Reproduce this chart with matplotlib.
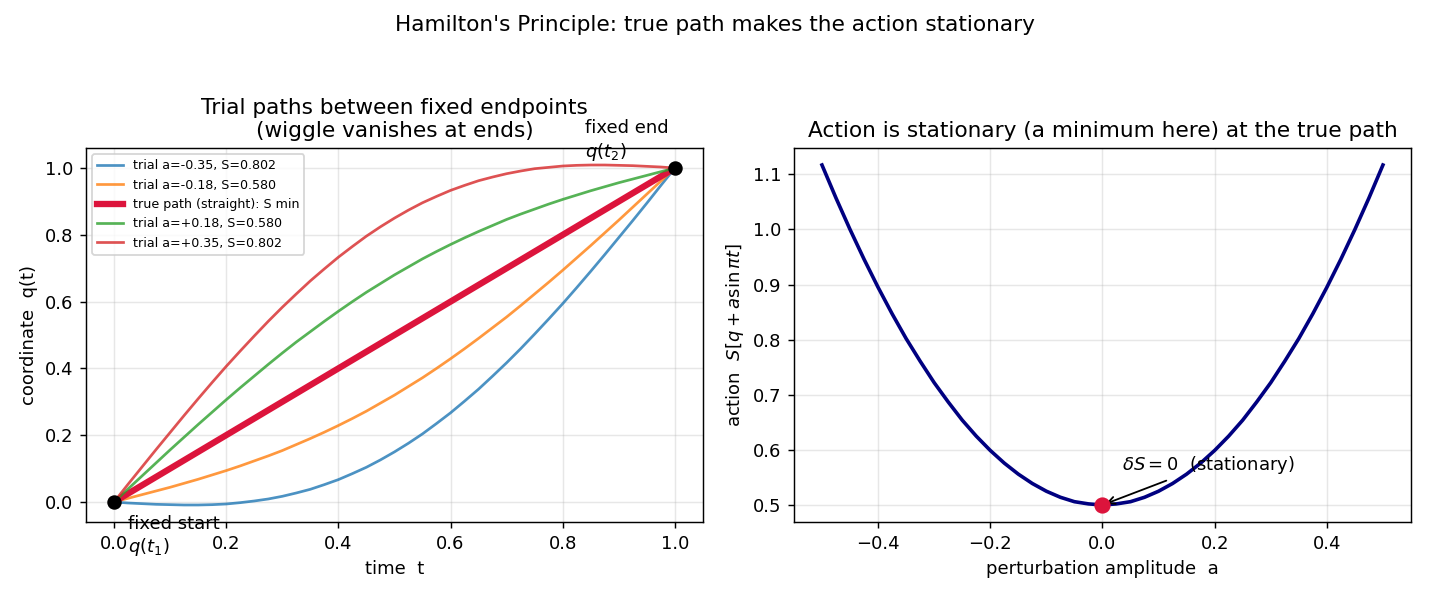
import numpy as np
import matplotlib
matplotlib.use("Agg")
import matplotlib.pyplot as plt

# trial paths q(t), read at t = 0, 0.025, ..., 1
t_pts = [0.000, 0.025, 0.050, 0.075, 0.100, 0.125, 0.150, 0.175, 0.200, 0.225,
         0.250, 0.275, 0.300, 0.325, 0.350, 0.375, 0.400, 0.425, 0.450, 0.475,
         0.500, 0.525, 0.550, 0.575, 0.600, 0.625, 0.650, 0.675, 0.700, 0.725,
         0.750, 0.775, 0.800, 0.825, 0.850, 0.875, 0.900, 0.925, 0.950, 0.975, 1.000]
q_m035 = [0.000, -0.003, -0.005, -0.007, -0.008, -0.009, -0.009, -0.008, -0.006, -0.002,
          0.003, 0.009, 0.017, 0.027, 0.038, 0.052, 0.067, 0.085, 0.104, 0.126,
          0.150, 0.176, 0.204, 0.235, 0.267, 0.302, 0.338, 0.377, 0.417, 0.459,
          0.503, 0.548, 0.594, 0.642, 0.691, 0.741, 0.792, 0.843, 0.895, 0.948, 1.000]
q_m018 = [0.000, 0.011, 0.022, 0.033, 0.044, 0.056, 0.068, 0.081, 0.094, 0.108,
          0.123, 0.138, 0.154, 0.172, 0.190, 0.209, 0.229, 0.250, 0.272, 0.296,
          0.320, 0.346, 0.372, 0.400, 0.429, 0.459, 0.490, 0.522, 0.554, 0.588,
          0.623, 0.658, 0.694, 0.731, 0.768, 0.806, 0.844, 0.883, 0.922, 0.961, 1.000]
q_p018 = [0.000, 0.039, 0.078, 0.117, 0.156, 0.194, 0.232, 0.269, 0.306, 0.342,
          0.377, 0.412, 0.446, 0.479, 0.510, 0.541, 0.571, 0.600, 0.628, 0.654,
          0.680, 0.704, 0.728, 0.750, 0.771, 0.791, 0.810, 0.828, 0.846, 0.862,
          0.877, 0.892, 0.906, 0.919, 0.932, 0.944, 0.956, 0.967, 0.978, 0.989, 1.000]
q_p035 = [0.000, 0.053, 0.105, 0.157, 0.208, 0.259, 0.309, 0.358, 0.406, 0.452,
          0.497, 0.541, 0.583, 0.623, 0.662, 0.698, 0.733, 0.765, 0.796, 0.824,
          0.850, 0.874, 0.896, 0.915, 0.933, 0.948, 0.962, 0.973, 0.983, 0.991,
          0.998, 1.002, 1.006, 1.008, 1.009, 1.009, 1.008, 1.007, 1.005, 1.003, 1.000]
true_t = [0.0, 1.0]
true_q = [0.0, 1.0]
trial_labels = ["trial a=-0.35, S=0.802", "trial a=-0.18, S=0.580",
                "trial a=+0.18, S=0.580", "trial a=+0.35, S=0.802"]

# action vs amplitude, read at a = -0.5 ... 0.5 in steps of 0.025
a_pts = [-0.500, -0.475, -0.450, -0.425, -0.400, -0.375, -0.350, -0.325, -0.300, -0.275,
         -0.250, -0.225, -0.200, -0.175, -0.150, -0.125, -0.100, -0.075, -0.050, -0.025,
         0.000, 0.025, 0.050, 0.075, 0.100, 0.125, 0.150, 0.175, 0.200, 0.225,
         0.250, 0.275, 0.300, 0.325, 0.350, 0.375, 0.400, 0.425, 0.450, 0.475, 0.500]
S_pts = [1.117, 1.057, 1.000, 0.946, 0.895, 0.847, 0.802, 0.761, 0.722, 0.687,
         0.654, 0.625, 0.599, 0.576, 0.556, 0.539, 0.525, 0.514, 0.506, 0.502,
         0.500, 0.502, 0.506, 0.514, 0.525, 0.539, 0.556, 0.576, 0.599, 0.625,
         0.654, 0.687, 0.722, 0.761, 0.802, 0.847, 0.895, 0.946, 1.000, 1.057, 1.117]

fig = plt.figure(figsize=(11, 4.6), dpi=130)
ax1 = fig.add_axes([0.0601, 0.1271, 0.4315, 0.6254])
ax2 = fig.add_axes([0.5552, 0.1271, 0.4315, 0.6254])

ax1.plot(t_pts, q_m035, color="C0", lw=1.5, alpha=0.8, label=trial_labels[0])
ax1.plot(t_pts, q_m018, color="C1", lw=1.5, alpha=0.8, label=trial_labels[1])
ax1.plot(true_t, true_q, color="crimson", lw=3.5, label="true path (straight): S min")
ax1.plot(t_pts, q_p018, color="C2", lw=1.5, alpha=0.8, label=trial_labels[2])
ax1.plot(t_pts, q_p035, color="C3", lw=1.5, alpha=0.8, label=trial_labels[3])
ax1.plot(true_t, true_q, "o", color="black", ms=7, zorder=5)
ax1.annotate("fixed start\n$q(t_1)$", (0, 0), xytext=(8, -7), textcoords="offset points",
             va="top", ha="left")
ax1.annotate("fixed end\n$q(t_2)$", (1, 1), xytext=(-50, 3), textcoords="offset points",
             va="bottom", ha="left")
ax1.set_title("Trial paths between fixed endpoints\n(wiggle vanishes at ends)")
ax1.set_xlabel("time  t")
ax1.set_ylabel("coordinate  q(t)")
ax1.grid(alpha=0.3)
ax1.legend(fontsize=7, loc="upper left")

ax2.plot(a_pts, S_pts, color="navy", lw=2)
ax2.plot([0], [0.5], "o", color="crimson", ms=8, zorder=5)
ax2.annotate(r"$\delta S=0$  (stationary)", (0, 0.5), xytext=(0.034, 0.564),
             arrowprops=dict(arrowstyle="->", color="black"))
ax2.set_title("Action is stationary (a minimum here) at the true path")
ax2.set_xlabel("perturbation amplitude  a")
ax2.set_ylabel(r"action  $S[q + a\sin\pi t]$")
ax2.grid(alpha=0.3)

fig.suptitle("Hamilton's Principle: true path makes the action stationary", y=0.975)
fig.savefig("out.png", dpi=130)
